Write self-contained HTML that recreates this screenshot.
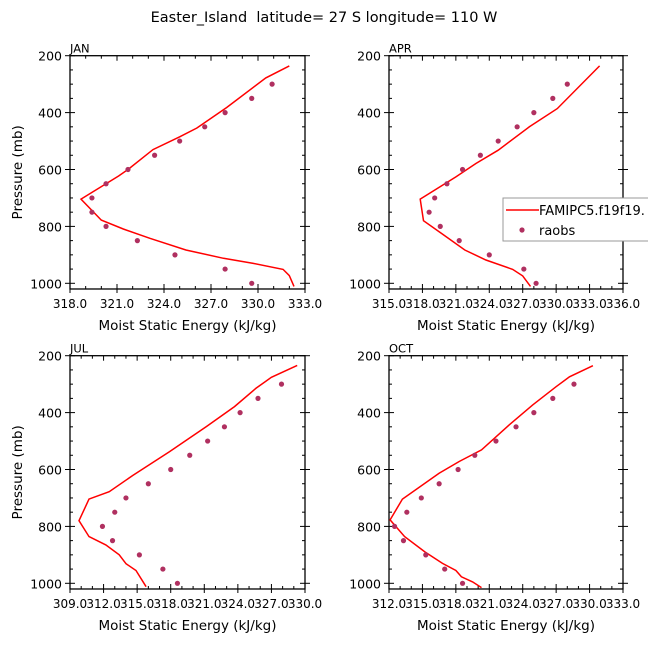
<!DOCTYPE html>
<html><head><meta charset="utf-8"><style>
body{margin:0;background:#fff;}
svg{display:block;font-family:"DejaVu Sans","Liberation Sans",sans-serif;}
text{white-space:pre;}
</style></head><body>
<svg id="chart" width="648" height="649" viewBox="0 0 648 649">
<text x="324" y="22" font-size="14.5" text-anchor="middle" xml:space="preserve">Easter_Island  latitude= 27 S longitude= 110 W</text>
</svg>
<script>
const pressures = [300,350,400,450,500,550,600,650,700,750,800,850,900,950,1000];
const janLineP = [236,278,382,454,485,530,600,623,704,778,809,842,883,912,930,951,973,1011];
const janLineE = [332.0,330.5,328.0,326.1,325.0,323.3,321.7,321.1,318.7,320.0,321.4,323.1,325.4,327.8,329.7,331.6,332.0,332.3];
const janObs = [330.9,329.6,327.9,326.6,325.0,323.4,321.7,320.3,319.4,319.4,320.3,322.3,324.7,327.9,329.6];
const aprLineP = [236,386,450,532,579,626,704,780,827,883,918,951,974,1011];
const aprLineE = [333.9,330.1,327.6,324.8,322.8,321.0,317.8,318.1,319.8,321.8,323.7,326.1,327.0,327.7];
const aprObs = [331.0,329.7,328.0,326.5,324.8,323.2,321.6,320.2,319.1,318.6,319.6,321.3,324.0,327.1,328.2];
const julLineP = [234,276,315,379,449,537,621,678,704,780,836,865,900,931,955,1012];
const julLineE = [329.3,327.0,325.6,323.7,321.2,317.9,314.6,312.5,310.7,309.8,310.7,312.2,313.4,314.0,314.9,315.8];
const julObs = [327.9,325.8,324.2,322.8,321.3,319.7,318.0,316.0,314.0,313.0,311.9,312.8,315.2,317.3,318.6];
const octLineP = [235,274,309,373,443,531,572,613,704,777,836,889,930,955,977,995,1015];
const octLineE = [330.3,328.2,327.0,324.9,322.8,320.3,318.3,316.5,313.2,312.1,313.4,315.2,316.8,318.0,318.5,319.5,320.3];
const octObs = [328.6,326.7,325.0,323.4,321.6,319.7,318.2,316.5,314.9,313.6,312.5,313.3,315.3,317.0,318.6];
const yTicks = [200,400,600,800,1000];

const NS="http://www.w3.org/2000/svg";
const svg=document.getElementById('chart');
function mk(tag,attrs,parent){const e=document.createElementNS(NS,tag);for(const k in attrs)e.setAttribute(k,attrs[k]);(parent||svg).appendChild(e);return e;}

const panels=[
 {id:'jan',label:'JAN',x0:70,x1:305,y0:55.7,y1:283.3,xmin:318,xmax:333,lp:janLineP,le:janLineE,obs:janObs,ylabel:true},
 {id:'apr',label:'APR',x0:389,x1:623,y0:55.7,y1:283.3,xmin:315,xmax:336,lp:aprLineP,le:aprLineE,obs:aprObs,ylabel:false},
 {id:'jul',label:'JUL',x0:70,x1:305,y0:355.7,y1:583.3,xmin:309,xmax:330,lp:julLineP,le:julLineE,obs:julObs,ylabel:true},
 {id:'oct',label:'OCT',x0:389,x1:623,y0:355.7,y1:583.3,xmin:312,xmax:333,lp:octLineP,le:octLineE,obs:octObs,ylabel:false}
];
panels.forEach(p=>{
 const g=mk('g',{});
 
 
 const sx=v=>p.x0+(v-p.xmin)/(p.xmax-p.xmin)*(p.x1-p.x0);
 const sy=v=>p.y0+(v-200)/800*(p.y1-p.y0);
 const top=sy(200), bot=sy(1020);
 const frame=mk('rect',{x:p.x0,y:top,width:p.x1-p.x0,height:bot-top,fill:'none',stroke:'#000','stroke-width':1.3},g);
 
 
 const lab=mk('text',{x:p.x0,y:top-3,'font-size':11.5},g);lab.textContent=p.label;
 
 
 for(let v=200;v<=1000;v+=50){
  const y=sy(v), major=v%200===0;
  const L=major?5:3;
  mk('line',{x1:p.x0-(major?5:0),x2:p.x0+L,y1:y,y2:y,stroke:'#000','stroke-width':1},g);
  mk('line',{x1:p.x1-L,x2:p.x1+(major?5:0),y1:y,y2:y,stroke:'#000','stroke-width':1},g);
 }
 yTicks.forEach(v=>{const t=mk('text',{x:p.x0-8,y:sy(v)+5,'font-size':12.5,'text-anchor':'end'},g);t.textContent=v;
  
  });
 for(let v=p.xmin;v<=p.xmax;v+=1){
  const x=sx(v), major=(v-p.xmin)%3===0, L=major?5:3;
  mk('line',{x1:x,x2:x,y1:bot+(major?4:0),y2:bot-L,stroke:'#000','stroke-width':1},g);
  mk('line',{x1:x,x2:x,y1:top,y2:top+L,stroke:'#000','stroke-width':1},g);
  if(major){const t=mk('text',{x:x,y:bot+19,'font-size':12,'text-anchor':'middle'},g);
   t.textContent=v.toFixed(1);
   
   }
 }
 const xt=mk('text',{x:(p.x0+p.x1)/2,y:bot+41,'font-size':13.5,'text-anchor':'middle'},g);xt.textContent='Moist Static Energy (kJ/kg)';
 
 
 if(p.ylabel){const yt=mk('text',{x:0,y:0,'font-size':13.5,'text-anchor':'middle',transform:`translate(22,${(top+bot)/2}) rotate(-90)`},g);yt.textContent='Pressure (mb)';
  
  }
 const pts=p.lp.map((pp,i)=>sx(p.le[i]).toFixed(1)+','+sy(pp).toFixed(1)).join(' ');
 const line=mk('polyline',{points:pts,fill:'none',stroke:'#ff0000','stroke-width':1.5},g);
 
 
 pressures.forEach((pp,i)=>{const c=mk('circle',{cx:sx(p.obs[i]),cy:sy(pp),r:2.6,fill:'#b03060'},g);
  
  });
});
const lg=mk('g',{});


mk('rect',{x:503,y:198,width:150,height:43,fill:'#fff',stroke:'#999','stroke-width':1},lg);
mk('line',{x1:506,x2:539,y1:210,y2:210,stroke:'#ff0000','stroke-width':1.5},lg);
const l1=mk('text',{x:539,y:215,'font-size':13},lg);l1.textContent='FAMIPC5.f19f19.';


mk('circle',{cx:522,cy:230,r:2.6,fill:'#b03060'},lg);
const l2=mk('text',{x:539,y:235,'font-size':13},lg);l2.textContent='raobs';


</script>
</body></html>
